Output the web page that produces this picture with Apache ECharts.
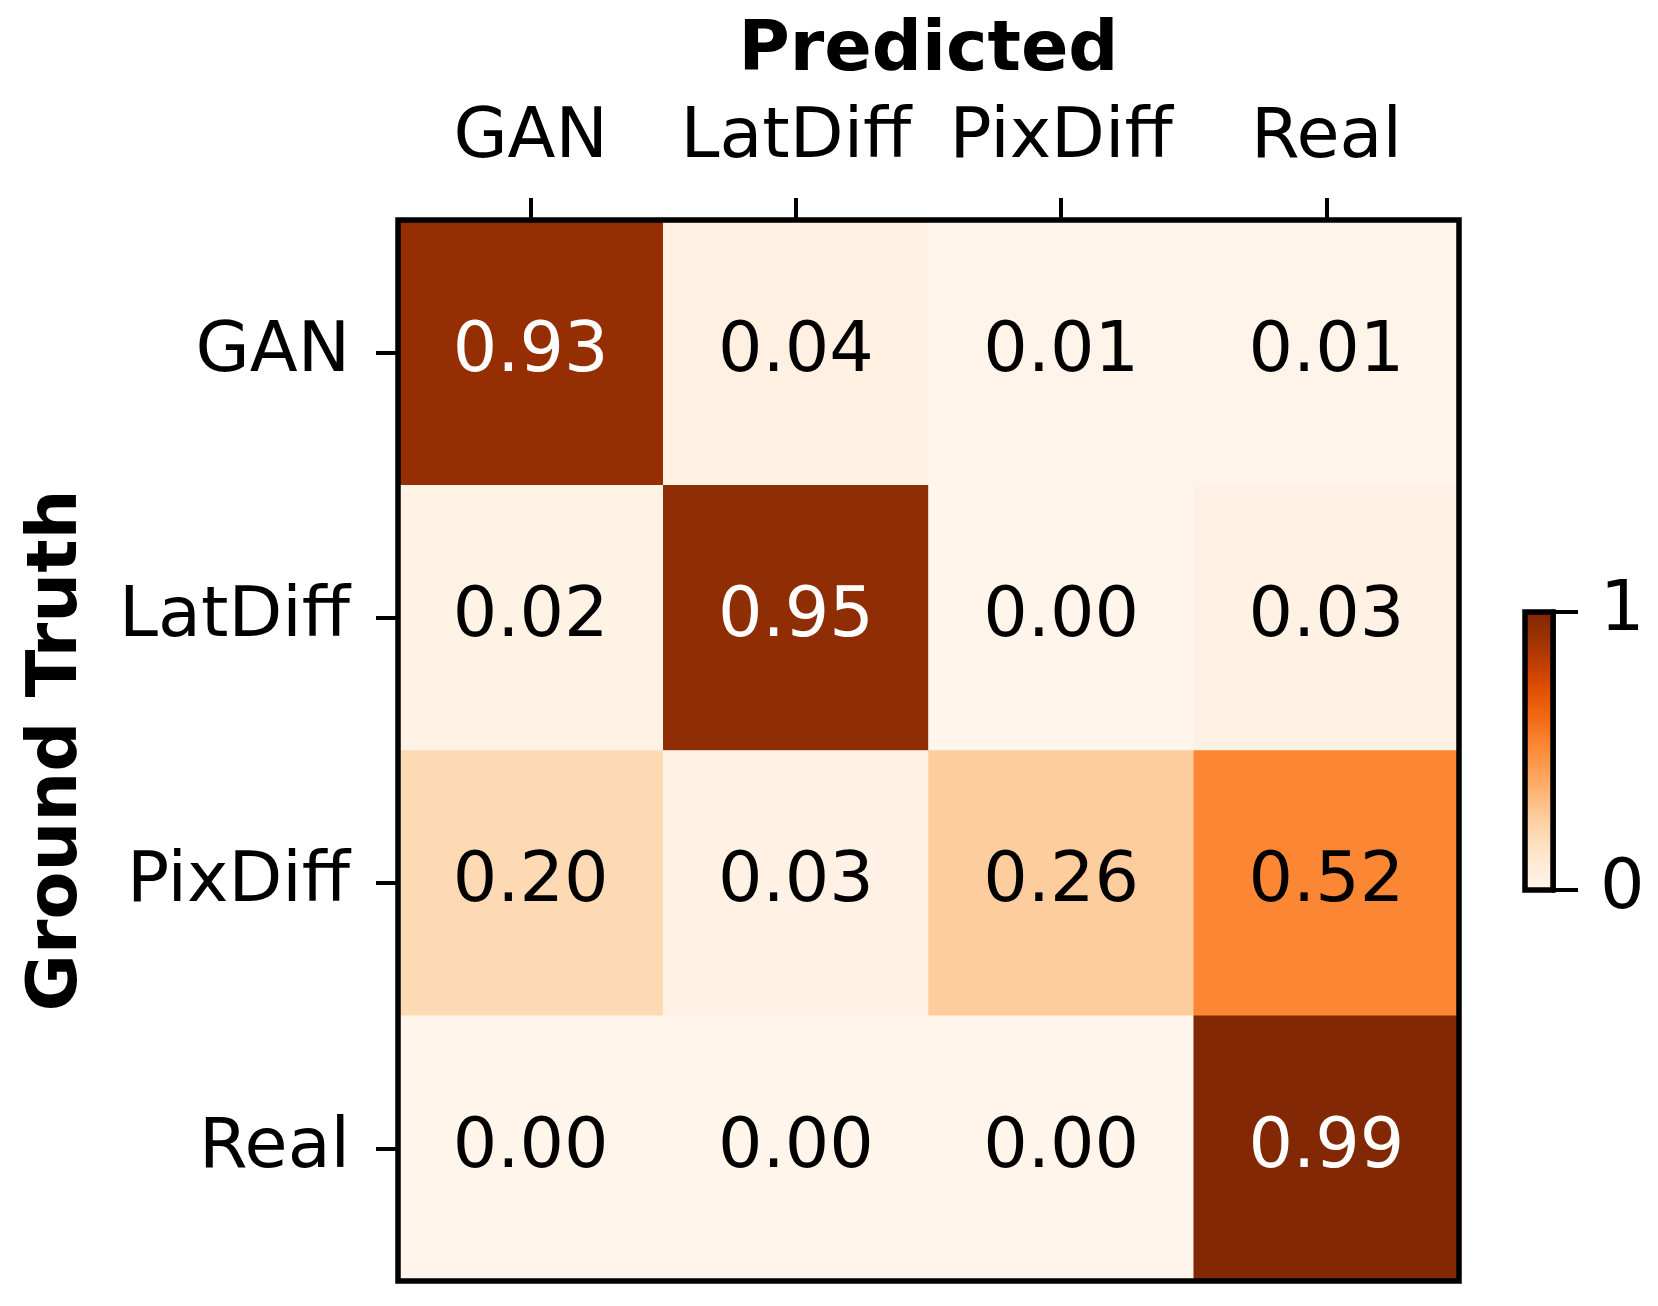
<!DOCTYPE html>
<html>
<head>
<meta charset="utf-8">
<script src="https://cdn.jsdelivr.net/npm/echarts@6/dist/echarts.min.js"></script>
<style>
html,body{margin:0;padding:0;background:#fff;}
#chart{width:1658px;height:1306px;}
</style>
</head>
<body>
<div id="chart"></div>
<script>
const predictedCats = ['GAN', 'LatDiff', 'PixDiff', 'Real'];
const truthCats = ['GAN', 'LatDiff', 'PixDiff', 'Real'];
const rowGAN = [0.93, 0.04, 0.01, 0.01];
const rowLatDiff = [0.02, 0.95, 0.00, 0.03];
const rowPixDiff = [0.20, 0.03, 0.26, 0.52];
const rowReal = [0.00, 0.00, 0.00, 0.99];
const colorbarTicks = [0, 1];
const colorbarRange = [1];
const orangesColors = ['#fff5eb', '#fee6ce', '#fdd0a2', '#fdae6b', '#fd8d3c', '#f16913', '#d94801', '#a63603', '#7f2704'];

const rows = [rowGAN, rowLatDiff, rowPixDiff, rowReal];
const data = [];
rows.forEach((row, yi) => row.forEach((v, xi) => data.push({
  value: [xi, yi, v],
  label: {color: v > 0.6 ? '#fff' : '#000'}
})));

const CB_TOP = 612, CB_H = 278;
const FONT = 'DejaVu Sans';
const gradient = new echarts.graphic.LinearGradient(0, 1, 0, 0,
  orangesColors.map((c, i) => ({offset: i / (orangesColors.length - 1), color: c})));

const chart = echarts.init(document.getElementById('chart'), null, {renderer: 'canvas'});
chart.setOption({
  animation: false,
  backgroundColor: '#ffffff',
  grid: [
    {left: 398, top: 220, width: 1061, height: 1061, show: true, borderColor: '#000', borderWidth: 5.5, backgroundColor: 'transparent', z: 10},
    {left: 1525, top: CB_TOP, width: 28, height: CB_H, show: true, borderColor: '#000', borderWidth: 5.5, backgroundColor: 'transparent', z: 10}
  ],
  xAxis: [
    {
      type: 'category', gridIndex: 0, position: 'top', data: predictedCats,
      axisLine: {show: false},
      axisTick: {show: true, alignWithLabel: true, length: 22, lineStyle: {color: '#000', width: 4}},
      axisLabel: {fontFamily: FONT, fontSize: 70, color: '#000', margin: 46, interval: 0, hideOverlap: false},
      splitLine: {show: false},
      name: 'Predicted', nameLocation: 'middle', nameGap: 133,
      nameTextStyle: {fontFamily: FONT, fontSize: 70, fontWeight: 'bold', color: '#000'}
    },
    {type: 'category', gridIndex: 1, show: false, data: ['cb']}
  ],
  yAxis: [
    {
      type: 'category', gridIndex: 0, inverse: true, data: truthCats,
      axisLine: {show: false},
      axisTick: {show: true, alignWithLabel: true, length: 22, lineStyle: {color: '#000', width: 4}},
      axisLabel: {fontFamily: FONT, fontSize: 70, color: '#000', margin: 48, interval: 0},
      splitLine: {show: false},
      name: 'Ground Truth', nameLocation: 'middle', nameRotate: 90, nameGap: 305,
      nameTextStyle: {fontFamily: FONT, fontSize: 70, fontWeight: 'bold', color: '#000'}
    },
    {
      type: 'value', gridIndex: 1, position: 'right', min: colorbarTicks[0], max: colorbarTicks[1], interval: 1,
      axisLine: {show: true, lineStyle: {color: '#000', width: 5.5}},
      axisTick: {show: true, inside: false, length: 25, lineStyle: {color: '#000', width: 4}},
      axisLabel: {fontFamily: FONT, fontSize: 70, color: '#000', margin: 47},
      splitLine: {show: false}
    }
  ],
  visualMap: {
    type: 'continuous', seriesIndex: 0, min: 0, max: 1, show: false,
    inRange: {color: orangesColors}
  },
  series: [{
    type: 'heatmap', xAxisIndex: 0, yAxisIndex: 0, data: data,
    label: {
      show: true, fontFamily: FONT, fontSize: 70,
      formatter: p => p.value[2].toFixed(2)
    },
    itemStyle: {borderWidth: 0},
    emphasis: {disabled: true}
  }, {
    type: 'bar', xAxisIndex: 1, yAxisIndex: 1, data: colorbarRange,
    barWidth: '100%', itemStyle: {color: gradient},
    emphasis: {disabled: true}, silent: true
  }]
});
</script>
</body>
</html>
